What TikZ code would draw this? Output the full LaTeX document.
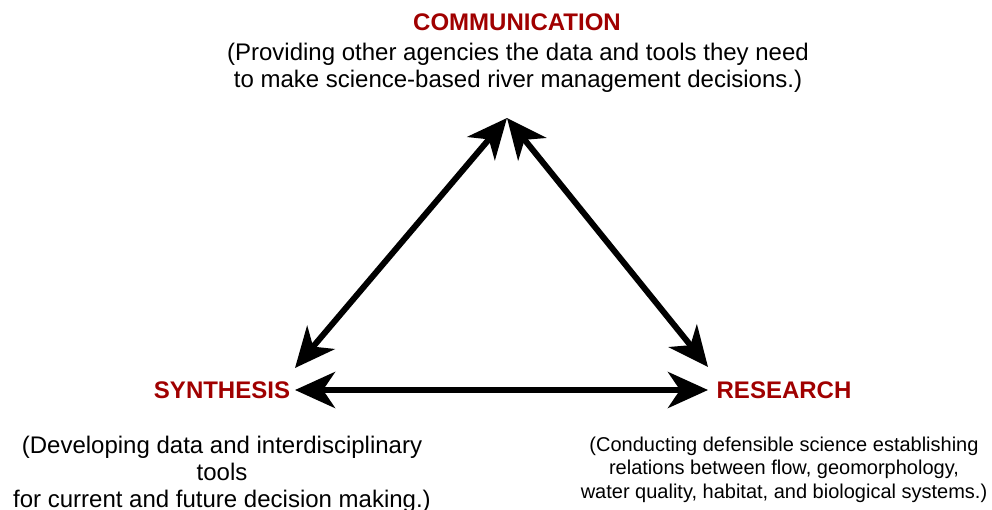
\documentclass[tikz,border=0pt]{standalone}
\usepackage{fontspec}
\setmainfont{Liberation Sans}
\usetikzlibrary{arrows.meta}
\definecolor{headred}{RGB}{160,0,0}
\tikzset{
  title/.style={font=\fontsize{24}{28}\selectfont\bfseries, text=headred, inner sep=0pt, anchor=base},
  desc/.style={font=\fontsize{24}{27}\selectfont, align=center, inner sep=0pt, anchor=base},
  descsmall/.style={font=\fontsize{20}{23.3}\selectfont, align=center, inner sep=0pt, anchor=base},
  link/.style={line width=6pt, {Stealth[length=40pt,width=36pt,inset=12pt]}-{Stealth[length=40pt,width=36pt,inset=12pt]}, shorten <=0pt, shorten >=0pt}
}
\begin{document}
\begin{tikzpicture}[x=1pt,y=-1pt]
\useasboundingbox (0,0) rectangle (992,510);
% anchor=base of a multi-line node sits on its last line's baseline
\node[title] (comm) at (517,31) {COMMUNICATION};
\node[desc] (commd) at (518,88) {(Providing other agencies the data and tools they need\\to make science-based river management decisions.)};
\node[title] (syn) at (222,398) {SYNTHESIS};
\node[title] (res) at (784,398) {RESEARCH};
\node[desc] (synd) at (222,507) {(Developing data and interdisciplinary\\tools\\for current and future decision making.)};
\node[descsmall] (resd) at (784,498) {(Conducting defensible science establishing\\relations between flow, geomorphology,\\water quality, habitat, and biological systems.)};
\coordinate (apex) at (507,118);
\coordinate (synup) at (295,368);
\coordinate (synright) at (295,390);
\coordinate (resup) at (708,367);
\coordinate (resleft) at (708,390);
\draw[link] (synup) -- (apex);
\draw[link] (apex) -- (resup);
\draw[link] (synright) -- (resleft);
\end{tikzpicture}
\end{document}
